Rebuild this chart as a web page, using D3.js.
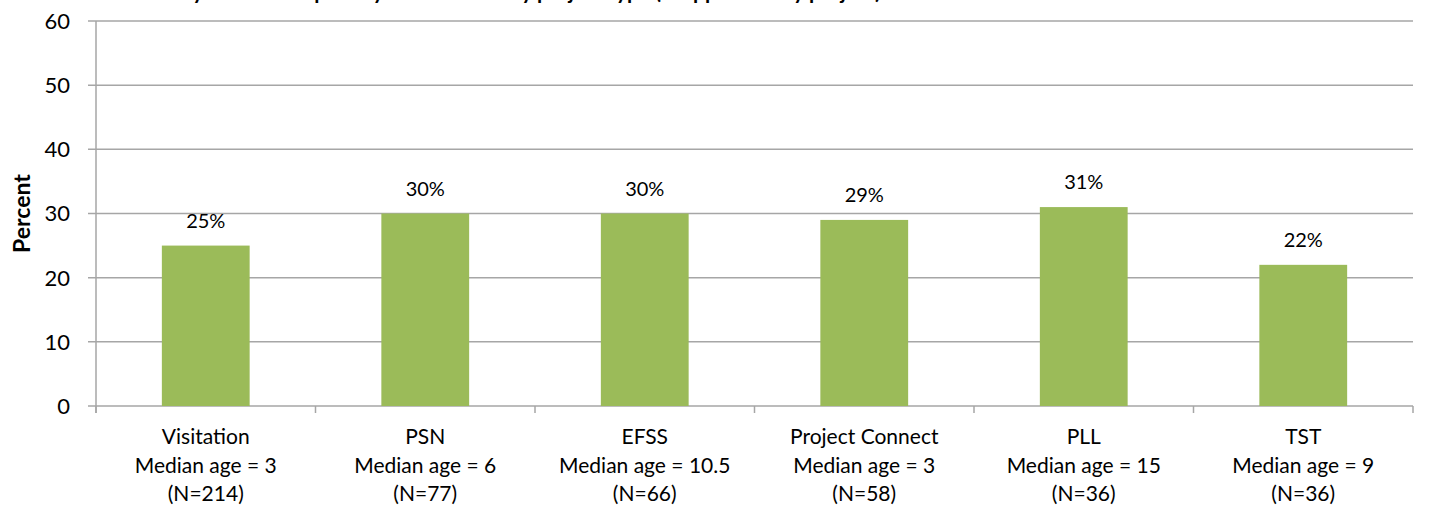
<!DOCTYPE html>
<html>
<head>
<meta charset="utf-8">
<script src="https://cdn.jsdelivr.net/npm/d3@7"></script>
<style>
  body { margin: 0; background: #fff; }
  svg text { font-family: Lato, "Open Sans", sans-serif; fill: #000; }
</style>
</head>
<body>
<svg id="chart" width="1430" height="510"></svg>
<script>
var programs = ['Visitation', 'PSN', 'EFSS', 'Project Connect', 'PLL', 'TST'];
var medianAges = ['3', '6', '10.5', '3', '15', '9'];
var counts = [214, 77, 66, 58, 36, 36];
var percents = [25, 30, 30, 29, 31, 22];
var yTicks = [0, 10, 20, 30, 40, 50, 60];

var rows = programs.map(function(p, i) {
  return {name: p, age: medianAges[i], n: counts[i], value: percents[i]};
});

var svg = d3.select('#chart');
var plotLeft = 96, plotRight = 1413, plotTop = 21, plotBottom = 406;

var x = d3.scaleBand().domain(programs).range([plotLeft, plotRight]).paddingInner(0.6).paddingOuter(0.3);
var xEdge = d3.scaleLinear().domain([0, programs.length]).range([plotLeft, plotRight]);
var y = d3.scaleLinear().domain([0, 60]).range([plotBottom, plotTop]);

// title, mostly cut off by the top edge
svg.append('text')
   .attr('x', 92)
   .attr('y', -1)
   .style('font-weight', 'bold')
   .style('font-size', '21px')
   .text('Percent of youth with a prior system contact by project type (N applicable by project)');

// gridlines
svg.selectAll('.grid')
   .data(yTicks.filter(function(d){ return d > 0; }))
   .enter().append('line')
   .attr('class', 'grid')
   .attr('x1', plotLeft - 8).attr('x2', plotRight)
   .attr('y1', function(d){ return y(d); })
   .attr('y2', function(d){ return y(d); })
   .style('stroke', '#a6a6a6')
   .style('stroke-width', 1.5);

// axes
svg.append('line')
   .attr('x1', plotLeft).attr('x2', plotLeft)
   .attr('y1', plotTop).attr('y2', plotBottom + 7)
   .style('stroke', '#a6a6a6').style('stroke-width', 1.5);
svg.append('line')
   .attr('x1', plotLeft - 8).attr('x2', plotRight)
   .attr('y1', plotBottom).attr('y2', plotBottom)
   .style('stroke', '#a6a6a6').style('stroke-width', 1.5);

svg.selectAll('.ytick')
   .data(yTicks)
   .enter().append('text')
   .attr('class', 'ytick')
   .attr('x', 70)
   .attr('y', function(d){ return y(d); })
   .attr('dy', '0.36em')
   .attr('text-anchor', 'end')
   .style('font-size', '22px')
   .text(function(d){ return d; });

svg.append('text')
   .attr('transform', 'translate(30,' + y(30) + ') rotate(-90)')
   .attr('text-anchor', 'middle')
   .style('font-weight', 'bold')
   .style('font-size', '23px')
   .text('Percent');

// category ticks
svg.selectAll('.xtick')
   .data(d3.range(programs.length + 1))
   .enter().append('line')
   .attr('class', 'xtick')
   .attr('x1', function(d){ return xEdge(d); })
   .attr('x2', function(d){ return xEdge(d); })
   .attr('y1', plotBottom).attr('y2', plotBottom + 7)
   .style('stroke', '#a6a6a6').style('stroke-width', 1.5);

// bars
svg.selectAll('.bar')
   .data(rows)
   .enter().append('rect')
   .attr('class', 'bar')
   .attr('x', function(d){ return x(d.name); })
   .attr('width', x.bandwidth())
   .attr('y', function(d){ return y(d.value); })
   .attr('height', function(d){ return plotBottom - y(d.value); })
   .style('fill', '#9bbb59');

// value labels
svg.selectAll('.val')
   .data(rows)
   .enter().append('text')
   .attr('class', 'val')
   .attr('x', function(d){ return x(d.name) + x.bandwidth() / 2; })
   .attr('y', function(d){ return y(d.value) - 18; })
   .attr('text-anchor', 'middle')
   .style('font-size', '20px')
   .text(function(d){ return d.value + '%'; });

// category labels
var cat = svg.selectAll('.cat')
   .data(rows)
   .enter().append('text')
   .attr('class', 'cat')
   .attr('text-anchor', 'middle')
   .style('font-size', '21px');
cat.append('tspan')
   .attr('x', function(d){ return x(d.name) + x.bandwidth() / 2; })
   .attr('y', 444)
   .text(function(d){ return d.name; });
cat.append('tspan')
   .attr('x', function(d){ return x(d.name) + x.bandwidth() / 2; })
   .attr('y', 473)
   .text(function(d){ return 'Median age = ' + d.age; });
cat.append('tspan')
   .attr('x', function(d){ return x(d.name) + x.bandwidth() / 2; })
   .attr('y', 501)
   .text(function(d){ return '(N=' + d.n + ')'; });
</script>
</body>
</html>
